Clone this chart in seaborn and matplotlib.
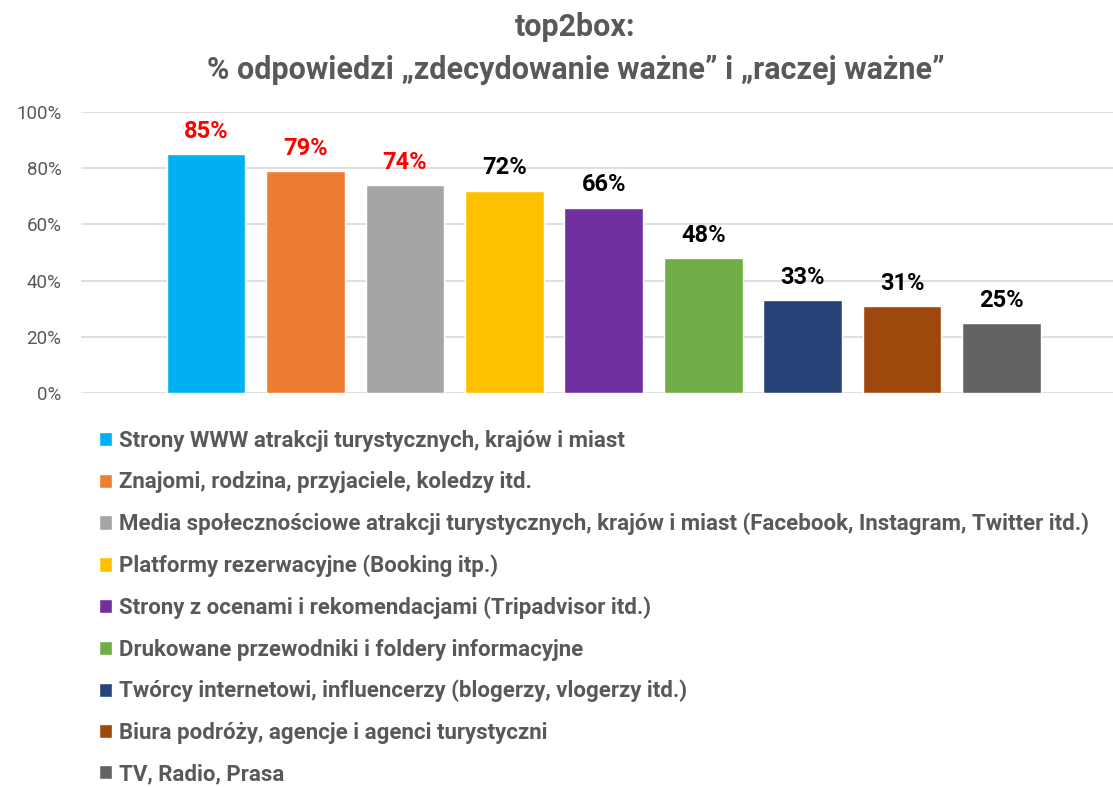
import seaborn as sns
import pandas as pd
import matplotlib.pyplot as plt
from matplotlib.ticker import PercentFormatter

# data
categories = [
    'Strony WWW atrakcji turystycznych, krajów i miast',
    'Znajomi, rodzina, przyjaciele, koledzy itd.',
    'Media społecznościowe atrakcji turystycznych, krajów i miast (Facebook, Instagram, Twitter itd.)',
    'Platformy rezerwacyjne (Booking itp.)',
    'Strony z ocenami i rekomendacjami (Tripadvisor itd.)',
    'Drukowane przewodniki i foldery informacyjne',
    'Twórcy internetowi, influencerzy (blogerzy, vlogerzy itd.)',
    'Biura podróży, agencje i agenci turystyczni',
    'TV, Radio, Prasa',
]
values = [85, 79, 74, 72, 66, 48, 33, 31, 25]
colors = ['#00B0F0', '#ED7D31', '#A5A5A5', '#FFC000', '#7030A0',
          '#70AD47', '#264478', '#9E480E', '#636363']
label_colors = ['#FF0000', '#FF0000', '#FF0000', '#000000', '#000000',
                '#000000', '#000000', '#000000', '#000000']

df = pd.DataFrame({'kategoria': categories, 'wartosc': values})

sns.set_style('white')
plt.rcParams['font.family'] = ['Roboto', 'DejaVu Sans']

grey = '#595959'

fig = plt.figure(figsize=(11.13, 7.87), dpi=100)
ax = fig.add_axes([0.0728, 0.5006, 0.9272, 0.3571])

sns.barplot(df, x='kategoria', y='wartosc', hue='kategoria',
            palette=colors, width=0.79, saturation=1, ax=ax, legend=True)

# value labels
for i, (v, c) in enumerate(zip(values, label_colors)):
    ax.text(i, v + 4.0, f'{v}%', ha='center', va='bottom', fontsize=17,
            fontweight='bold', color=c)

ax.set_ylim(0, 100)
ax.set_xlim(-1.256, 9.12)
ax.set_yticks(range(0, 101, 20))
ax.yaxis.set_major_formatter(PercentFormatter(decimals=0))
ax.tick_params(axis='y', labelsize=13.5, labelcolor=grey, length=0, pad=14)
ax.set_xticks([])
ax.set_xlabel('')
ax.set_ylabel('')
ax.grid(axis='y', color='#D9D9D9', linewidth=1.2)
ax.set_axisbelow(True)
sns.despine(ax=ax, left=True, bottom=True)

# legend
handles, labels = ax.get_legend_handles_labels()
ax.get_legend().remove()
leg = fig.legend(handles, labels, loc='upper left', bbox_to_anchor=(0.089, 0.4535),
                 frameon=False, fontsize=16,
                 handlelength=0.6, handleheight=0.6, handletextpad=0.3,
                 labelspacing=0.87, borderpad=0, borderaxespad=0)
for t in leg.get_texts():
    t.set_color(grey)
    t.set_fontweight('bold')

# title
fig.text(0.517, 0.985, 'top2box:\n% odpowiedzi „zdecydowanie ważne” i „raczej ważne”',
         ha='center', va='top', fontsize=22, fontweight='bold', color=grey,
         linespacing=1.53)

fig.savefig('out.png', dpi=100)
